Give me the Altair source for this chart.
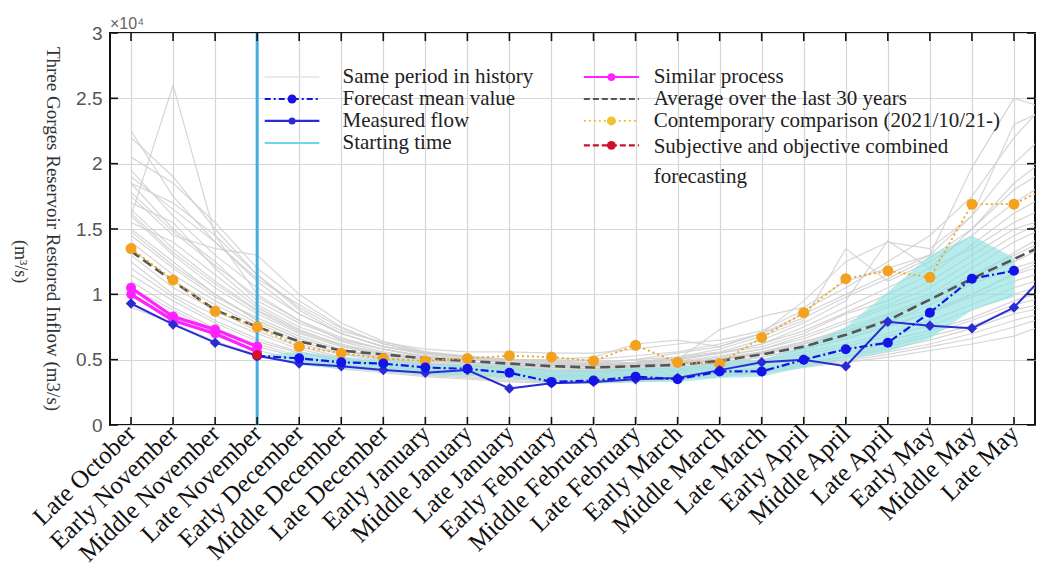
import altair as alt
import pandas as pd

categories = ["Late October", "Early November", "Middle November", "Late November",
              "Early December", "Middle December", "Late December", "Early January",
              "Middle January", "Late January", "Early February", "Middle February",
              "Late February", "Early March", "Middle March", "Late March", "Early April",
              "Middle April", "Late April", "Early May", "Middle May", "Late May"]

# values in units of 10^4 m3/s, index 22 is the next period (clipped at the right edge)
measured = [0.93, 0.77, 0.63, 0.53, 0.47, 0.45, 0.42, 0.40, 0.42, 0.28, 0.32, 0.33,
            0.35, 0.36, 0.42, 0.48, 0.50, 0.45, 0.79, 0.76, 0.74, 0.90, 1.24]
forecast_start = 3
forecast = [0.53, 0.51, 0.48, 0.47, 0.44, 0.43, 0.40, 0.33, 0.34, 0.37, 0.35,
            0.41, 0.41, 0.50, 0.58, 0.63, 0.86, 1.12, 1.18]
average30 = [1.33, 1.10, 0.88, 0.75, 0.64, 0.57, 0.54, 0.51, 0.49, 0.47, 0.45, 0.44,
             0.45, 0.46, 0.49, 0.54, 0.60, 0.69, 0.80, 0.96, 1.12, 1.27, 1.42]
contemporary = [1.35, 1.11, 0.87, 0.75, 0.60, 0.55, 0.51, 0.49, 0.51, 0.53, 0.52, 0.49,
                0.61, 0.48, 0.47, 0.67, 0.86, 1.12, 1.18, 1.13, 1.69, 1.69, 1.85]
similar_a = [1.05, 0.83, 0.73, 0.60]
similar_b = [1.00, 0.80, 0.70, 0.56]
combined_idx = [3]
combined = [0.535]
band_start = 3
band_low = [0.53, 0.46, 0.43, 0.41, 0.38, 0.38, 0.36, 0.32, 0.32, 0.33, 0.33, 0.36,
             0.37, 0.44, 0.50, 0.56, 0.66, 0.88, 0.98]
band_high = [0.53, 0.56, 0.52, 0.50, 0.47, 0.46, 0.45, 0.42, 0.42, 0.44, 0.44, 0.48,
             0.50, 0.60, 0.75, 1.02, 1.30, 1.45, 1.28]
start_index = 3

history = [
    [2.25, 1.75, 1.40, 1.10, 0.85, 0.70, 0.60, 0.55, 0.52, 0.50, 0.48, 0.47, 0.50, 0.55, 0.60, 0.70, 0.85, 1.00, 1.15, 1.30, 1.60, 2.00, 2.30],
    [1.60, 2.60, 1.45, 1.00, 0.80, 0.65, 0.58, 0.52, 0.50, 0.48, 0.46, 0.45, 0.47, 0.50, 0.55, 0.62, 0.75, 0.90, 1.05, 1.20, 1.50, 1.80, 2.00],
    [2.05, 1.85, 1.55, 1.20, 0.95, 0.75, 0.62, 0.56, 0.53, 0.50, 0.49, 0.48, 0.50, 0.52, 0.58, 0.68, 0.80, 1.35, 1.10, 1.25, 1.45, 1.70, 1.90],
    [1.95, 1.60, 1.30, 1.05, 0.85, 0.70, 0.60, 0.54, 0.51, 0.49, 0.47, 0.46, 0.48, 0.52, 0.56, 0.65, 0.78, 0.95, 1.41, 1.20, 1.35, 1.55, 1.70],
    [1.85, 1.50, 1.25, 0.95, 0.78, 0.66, 0.58, 0.52, 0.50, 0.48, 0.46, 0.45, 0.47, 0.50, 0.73, 0.83, 0.90, 1.10, 1.20, 1.30, 1.97, 2.50, 2.40],
    [1.75, 1.45, 1.35, 1.30, 1.00, 0.78, 0.64, 0.56, 0.52, 0.50, 0.48, 0.47, 0.48, 0.50, 0.55, 0.60, 0.70, 0.85, 0.95, 1.10, 1.30, 1.50, 1.60],
    [1.70, 1.55, 1.20, 0.92, 0.75, 0.64, 0.56, 0.51, 0.48, 0.46, 0.44, 0.43, 0.45, 0.48, 0.52, 0.58, 0.68, 0.80, 0.92, 1.05, 1.25, 1.45, 1.60],
    [1.65, 1.35, 1.10, 0.88, 0.72, 0.62, 0.55, 0.50, 0.48, 0.46, 0.45, 0.44, 0.46, 0.49, 0.53, 0.58, 0.66, 0.78, 0.90, 1.00, 1.20, 1.40, 1.55],
    [1.60, 1.30, 1.05, 0.85, 0.70, 0.60, 0.53, 0.49, 0.47, 0.45, 0.44, 0.43, 0.45, 0.47, 0.51, 0.56, 0.63, 0.74, 0.85, 0.98, 1.15, 1.30, 1.45],
    [1.55, 1.40, 1.15, 0.90, 0.73, 0.61, 0.54, 0.50, 0.48, 0.47, 0.46, 0.45, 0.46, 0.48, 0.50, 0.55, 0.62, 0.70, 0.82, 0.95, 1.10, 1.25, 1.40],
    [1.50, 1.25, 1.00, 0.80, 0.66, 0.57, 0.51, 0.47, 0.45, 0.44, 0.43, 0.42, 0.43, 0.45, 0.49, 0.54, 0.60, 0.68, 0.78, 0.92, 1.08, 1.20, 1.30],
    [1.45, 1.20, 0.98, 0.82, 0.68, 0.58, 0.52, 0.48, 0.46, 0.44, 0.42, 0.41, 0.43, 0.46, 0.50, 0.56, 0.64, 0.72, 0.80, 0.88, 1.00, 1.15, 1.25],
    [1.40, 1.15, 0.95, 0.78, 0.64, 0.55, 0.50, 0.46, 0.44, 0.42, 0.41, 0.40, 0.42, 0.44, 0.48, 0.52, 0.58, 0.66, 0.76, 0.86, 0.98, 1.10, 1.20],
    [1.35, 1.10, 0.92, 0.76, 0.62, 0.54, 0.49, 0.45, 0.43, 0.41, 0.40, 0.40, 0.41, 0.43, 0.46, 0.50, 0.56, 0.62, 0.70, 0.80, 0.92, 1.05, 1.15],
    [1.30, 1.05, 0.88, 0.72, 0.60, 0.52, 0.47, 0.44, 0.42, 0.40, 0.39, 0.39, 0.40, 0.42, 0.45, 0.49, 0.54, 0.60, 0.68, 0.76, 0.88, 1.00, 1.10],
    [1.25, 1.00, 0.84, 0.70, 0.58, 0.51, 0.46, 0.43, 0.41, 0.39, 0.38, 0.38, 0.39, 0.41, 0.44, 0.48, 0.52, 0.58, 0.65, 0.72, 0.82, 0.95, 1.05],
    [1.20, 0.98, 0.80, 0.66, 0.56, 0.50, 0.45, 0.42, 0.40, 0.38, 0.37, 0.37, 0.38, 0.40, 0.43, 0.46, 0.50, 0.55, 0.62, 0.70, 0.80, 0.92, 1.00],
    [1.15, 0.95, 0.78, 0.64, 0.55, 0.49, 0.44, 0.41, 0.39, 0.37, 0.36, 0.36, 0.37, 0.39, 0.41, 0.44, 0.48, 0.53, 0.60, 0.68, 0.76, 0.88, 0.95],
    [1.10, 0.90, 0.74, 0.62, 0.53, 0.47, 0.43, 0.40, 0.38, 0.36, 0.35, 0.35, 0.36, 0.38, 0.40, 0.43, 0.47, 0.52, 0.58, 0.65, 0.74, 0.85, 0.92],
    [1.05, 0.88, 0.72, 0.60, 0.52, 0.46, 0.42, 0.39, 0.37, 0.35, 0.34, 0.34, 0.35, 0.37, 0.39, 0.42, 0.46, 0.50, 0.56, 0.62, 0.70, 0.80, 0.88],
    [0.98, 0.82, 0.68, 0.57, 0.50, 0.45, 0.41, 0.38, 0.36, 0.34, 0.33, 0.33, 0.34, 0.36, 0.38, 0.41, 0.45, 0.49, 0.54, 0.60, 0.66, 0.75, 0.85],
    [0.90, 0.78, 0.64, 0.54, 0.47, 0.43, 0.40, 0.37, 0.35, 0.33, 0.32, 0.32, 0.33, 0.35, 0.37, 0.40, 0.44, 0.48, 0.52, 0.57, 0.62, 0.68, 0.80],
    [1.85, 1.70, 1.45, 1.15, 0.90, 0.72, 0.63, 0.58, 0.56, 0.56, 0.55, 0.55, 0.58, 0.62, 0.65, 0.72, 0.88, 1.05, 1.25, 1.45, 1.75, 2.20, 2.55],
    [2.20, 1.90, 1.50, 1.15, 0.88, 0.70, 0.60, 0.55, 0.52, 0.50, 0.50, 0.52, 0.62, 0.65, 0.60, 0.70, 0.95, 1.25, 1.40, 1.35, 1.60, 2.30, 2.45],
    [1.90, 1.65, 1.40, 1.12, 0.92, 0.74, 0.62, 0.55, 0.52, 0.50, 0.49, 0.50, 0.53, 0.56, 0.62, 0.70, 0.82, 0.98, 1.12, 1.28, 1.50, 1.85, 2.10],
    [1.78, 1.48, 1.22, 0.98, 0.80, 0.67, 0.58, 0.53, 0.50, 0.48, 0.47, 0.46, 0.48, 0.51, 0.55, 0.62, 0.72, 0.86, 1.00, 1.15, 1.38, 1.62, 1.80],
    [1.62, 1.32, 1.08, 0.87, 0.71, 0.61, 0.54, 0.50, 0.47, 0.45, 0.44, 0.43, 0.44, 0.47, 0.50, 0.55, 0.62, 0.72, 0.84, 0.96, 1.12, 1.32, 1.50],
    [1.48, 1.22, 1.00, 0.80, 0.66, 0.57, 0.51, 0.47, 0.45, 0.43, 0.42, 0.41, 0.42, 0.44, 0.47, 0.52, 0.58, 0.66, 0.75, 0.86, 1.00, 1.16, 1.30],
]

y_ticks = [0, 0.5, 1, 1.5, 2, 2.5, 3]

legend_names_left = ["Same period in history", "Forecast mean value", "Measured flow", "Starting time"]
legend_names_right = ["Similar process", "Average over the last 30 years",
                      "Contemporary comparison (2021/10/21-)",
                      "Subjective and objective combined", "forecasting"]

# ---------------- helpers ----------------
xs = alt.Scale(domain=[-0.5, 21.5], nice=False, zero=False)
ys = alt.Scale(domain=[0, 3], nice=False, zero=False)
label_array = "[" + ",".join("'" + c + "'" for c in categories) + "]"

x_axis = alt.Axis(values=list(range(len(categories))), labelExpr=label_array + "[datum.value]",
                  labelAngle=316, labelAlign="right", labelBaseline="middle",
                  labelFont="Liberation Serif", labelFontSize=25, labelColor="#111",
                  labelPadding=4, labelOverlap=False, labelFlush=False, labelLimit=400,
                  ticks=False, domain=False, grid=True, gridColor="#d6d6d6", gridWidth=1.2,
                  title="")
y_axis = alt.Axis(values=y_ticks, labelExpr="'' + datum.value", labelFont="Liberation Sans",
                  labelFontSize=19, labelColor="#555", labelPadding=8, ticks=False,
                  domain=False, grid=True, gridColor="#d6d6d6", gridWidth=1.2, title="")

X = alt.X("x:Q", scale=xs, axis=x_axis)
Y = alt.Y("y:Q", scale=ys, axis=y_axis)


def frame(xvals, yvals, group=0):
    return pd.DataFrame({"x": list(xvals), "y": list(yvals), "g": [group] * len(yvals)})


def series(df, color, width, dash=None, shape=None, size=0, opacity=1.0):
    kw = dict(color=color, strokeWidth=width, clip=True, opacity=opacity)
    if dash:
        kw["strokeDash"] = dash
    out = [alt.Chart(df).mark_line(**kw).encode(x=X, y=Y, detail="g:N")]
    if shape:
        out.append(alt.Chart(df).mark_point(shape=shape, filled=True, size=size, color=color,
                                            opacity=1, clip=True).encode(x=X, y=Y))
    return out


def legend_symbol(xa, xb, yv, color, width, dash=None, shape=None, size=0):
    df = pd.DataFrame({"x": [xa], "x2": [xb], "y": [yv]})
    kw = dict(color=color, strokeWidth=width)
    if dash:
        kw["strokeDash"] = dash
    out = [alt.Chart(df).mark_rule(**kw).encode(x=X, x2="x2:Q", y=Y)]
    if shape:
        dfp = pd.DataFrame({"x": [(xa + xb) / 2], "y": [yv]})
        out.append(alt.Chart(dfp).mark_point(shape=shape, filled=True, size=size, color=color,
                                             opacity=1).encode(x=X, y=Y))
    return out


layers = []

# history lines
hist_rows = []
for k, line in enumerate(history):
    for i, v in enumerate(line):
        hist_rows.append({"x": i, "y": v, "g": k})
layers += series(pd.DataFrame(hist_rows), "#cfcfcf", 1.2, opacity=0.85)

# ensemble band
n_band = len(band_low)
band_df = pd.DataFrame({"x": list(range(band_start, band_start + n_band)), "y": band_low, "y2": band_high})
layers.append(alt.Chart(band_df).mark_area(color="#8fe2e2", opacity=0.65, clip=True)
              .encode(x=X, y=Y, y2="y2:Q"))

# starting time
start_df = pd.DataFrame({"x": [start_index], "y": [0], "y2": [3]})
layers.append(alt.Chart(start_df).mark_rule(color="#43aedc", strokeWidth=3)
              .encode(x=X, y=Y, y2="y2:Q"))

idx = list(range(len(measured)))
layers += series(frame(idx, average30), "#555555", 2.6, dash=[10, 5])
layers += series(frame(idx, contemporary), "#f2a21e", 1.8, dash=[2, 3], shape="circle", size=120)
layers += series(frame(range(len(similar_a)), similar_a, 0), "#ff22ff", 3.2, shape="circle", size=100)
layers += series(frame(range(len(similar_b)), similar_b, 1), "#ff22ff", 3.2, shape="circle", size=90)
layers += series(frame(idx, measured), "#2b2bd6", 2.0, shape="diamond", size=110)
layers += series(frame(range(forecast_start, forecast_start + len(forecast)), forecast), "#1414e6", 2.2,
                 dash=[8, 3, 2, 3], shape="circle", size=100)
layers += series(frame(combined_idx, combined), "#e01020", 2.0, dash=[6, 3, 2, 3], shape="circle", size=90)

# inward ticks (box style)
n = len(categories)
tick_df = pd.DataFrame({"x": list(range(n)) * 2, "y": [0] * n + [3] * n, "y2": [0.062] * n + [2.938] * n})
layers.append(alt.Chart(tick_df).mark_rule(color="#111", strokeWidth=1.6).encode(x=X, y=Y, y2="y2:Q"))
ny = len(y_ticks)
ytick_df = pd.DataFrame({"x": [-0.5] * ny + [21.5] * ny, "x2": [-0.31] * ny + [21.31] * ny,
                         "y": y_ticks * 2})
layers.append(alt.Chart(ytick_df).mark_rule(color="#111", strokeWidth=1.6).encode(x=X, x2="x2:Q", y=Y))

# legend (placed through the data scales)
rows_y = [2.663, 2.495, 2.327, 2.158]
lx1, lx2, ltx = 3.18, 4.48, 5.03
rx1, rx2, rtx = 10.77, 12.08, 12.43
layers += legend_symbol(lx1, lx2, rows_y[0], "#e2e2e2", 1.5)
layers += legend_symbol(lx1, lx2, rows_y[1], "#1414e6", 2.2, dash=[6, 3, 2, 3], shape="circle", size=80)
layers += legend_symbol(lx1, lx2, rows_y[2], "#2b2bd6", 2.2, shape="circle", size=50)
layers += legend_symbol(lx1, lx2, rows_y[3], "#6fd6e6", 2.2)
layers += legend_symbol(rx1, rx2, rows_y[0], "#ff22ff", 2.0, shape="circle", size=60)
layers += legend_symbol(rx1, rx2, rows_y[1], "#555555", 2.2, dash=[6, 3])
layers += legend_symbol(rx1, rx2, rows_y[2], "#f2c030", 1.8, dash=[2, 3], shape="circle", size=80)
layers += legend_symbol(rx1, rx2, 2.14, "#d0102a", 2.2, dash=[6, 3], shape="circle", size=80)

legend_text = pd.DataFrame({
    "x": [ltx] * 4 + [rtx] * 5,
    "y": rows_y + [2.663, 2.495, 2.327, 2.13, 1.90],
    "t": legend_names_left + legend_names_right,
})
layers.append(alt.Chart(legend_text).mark_text(align="left", baseline="middle", font="Liberation Serif",
                                               fontSize=21, color="#222").encode(x=X, y=Y, text="t:N"))

# exponent and y title
exp_df = pd.DataFrame({"x": [-0.5], "y": [3.07], "t": ["×10⁴"]})
layers.append(alt.Chart(exp_df).mark_text(align="left", baseline="middle", font="Liberation Sans",
                                          fontSize=16, color="#666").encode(x=X, y=Y, text="t:N"))
title_df = pd.DataFrame({"x": [-1.85], "y": [1.50],
                         "t": ["Three Gorges Reservoir Restored Inflow (m3/s)"]})
layers.append(alt.Chart(title_df).mark_text(align="center", baseline="middle", angle=90,
                                            font="Liberation Serif", fontSize=19, color="#333")
              .encode(x=X, y=Y, text="t:N"))
unit_df = pd.DataFrame({"x": [-2.63], "y": [1.25], "t": ["(m³/s)"]})
layers.append(alt.Chart(unit_df).mark_text(align="center", baseline="middle", angle=90,
                                           font="Liberation Serif", fontSize=18, color="#333")
              .encode(x=X, y=Y, text="t:N"))

chart = alt.layer(*layers).properties(
    width=925, height=392,
    autosize=alt.AutoSizeParams(type="none"),
    padding={"left": 110, "top": 33, "right": 10, "bottom": 154},
    background="white",
).configure_view(stroke="#111", strokeWidth=2)

chart.save("out.html", embed_options={"renderer": "svg", "actions": False})
